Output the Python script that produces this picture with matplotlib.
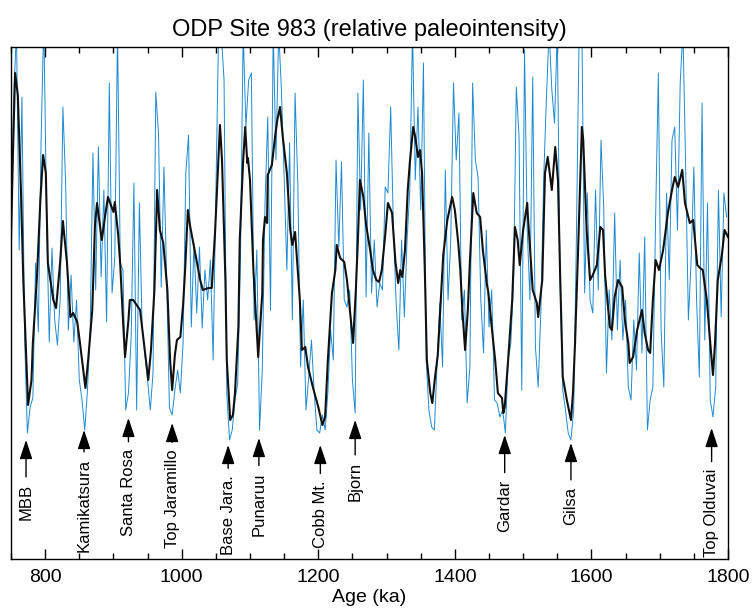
import numpy as np
import matplotlib
matplotlib.use("Agg")
import matplotlib.pyplot as plt
from matplotlib.ticker import MultipleLocator

plt.rcParams['font.family'] = ['Liberation Sans', 'DejaVu Sans']

# smoothed record (black), age in ka
black_age = [750, 753, 756, 760, 765, 768, 772, 775, 780, 782, 788, 793, 797, 801, 804, 812, 816,
             822, 826, 832, 837, 841, 847, 851, 859, 863, 869, 873, 876, 883, 888, 892, 900, 902,
             907, 910, 914, 917, 922, 924, 929, 932, 939, 945, 951, 955, 960, 964, 968, 973, 979,
             983, 986, 990, 993, 998, 1002, 1005, 1009, 1012, 1017, 1023, 1027, 1031, 1039, 1044,
             1049, 1053, 1056, 1059, 1064, 1066, 1071, 1075, 1078, 1083, 1085, 1090, 1093, 1096,
             1097, 1100, 1105, 1109, 1112, 1118, 1119, 1122, 1125, 1126, 1132, 1137, 1140, 1144,
             1148, 1154, 1159, 1162, 1166, 1170, 1173, 1176, 1181, 1185, 1192, 1200, 1206, 1210,
             1214, 1220, 1225, 1227, 1232, 1238, 1242, 1247, 1251, 1255, 1258, 1261, 1266, 1270,
             1276, 1280, 1285, 1289, 1293, 1298, 1302, 1308, 1313, 1317, 1320, 1323, 1327, 1331,
             1334, 1339, 1342, 1346, 1349, 1352, 1356, 1359, 1364, 1367, 1371, 1375, 1378, 1383,
             1389, 1396, 1400, 1405, 1408, 1411, 1415, 1419, 1422, 1427, 1432, 1437, 1441, 1447,
             1449, 1454, 1459, 1463, 1469, 1471, 1473, 1478, 1484, 1488, 1492, 1495, 1500, 1506,
             1507, 1510, 1514, 1520, 1522, 1528, 1532, 1536, 1542, 1547, 1551, 1554, 1558, 1564,
             1570, 1573, 1576, 1580, 1586, 1588, 1593, 1598, 1602, 1608, 1613, 1617, 1620, 1627,
             1630, 1634, 1639, 1645, 1649, 1654, 1656, 1661, 1667, 1674, 1678, 1683, 1686, 1690,
             1694, 1699, 1705, 1712, 1718, 1722, 1727, 1733, 1737, 1744, 1749, 1755, 1759, 1763,
             1769, 1774, 1778, 1781, 1785, 1791, 1795, 1800]
black_val = [3.19, 4.09, 4.86, 4.64, 3.59, 2.79, 2.09, 1.54, 1.79, 2.16, 2.82, 3.59, 4.04, 3.86, 2.96,
             2.59, 2.51, 2.97, 3.38, 2.96, 2.42, 2.46, 2.37, 2.16, 1.71, 1.99, 2.49, 3.34, 3.56, 3.19,
             3.44, 3.62, 3.47, 3.57, 3.24, 2.94, 2.39, 2.02, 2.39, 2.59, 2.59, 2.56, 2.49, 2.14, 1.79,
             2.09, 2.69, 3.69, 3.29, 3.16, 2.69, 1.99, 1.69, 2.04, 2.19, 2.22, 2.54, 2.89, 3.49, 3.34,
             3.16, 2.94, 2.79, 2.69, 2.71, 2.71, 3.29, 3.89, 4.34, 3.99, 2.79, 1.99, 1.39, 1.44, 1.66,
             2.32, 3.19, 3.99, 4.32, 3.96, 4.01, 3.79, 2.89, 2.39, 2.02, 2.66, 3.19, 3.42, 3.36, 3.84,
             3.94, 4.24, 4.39, 4.52, 4.22, 3.86, 3.29, 3.14, 3.27, 2.89, 2.59, 2.09, 2.12, 1.92, 1.72,
             1.52, 1.34, 1.42, 1.99, 2.66, 2.89, 3.14, 3.01, 2.97, 2.79, 2.44, 2.16, 2.69, 3.19, 3.79,
             3.62, 3.34, 3.09, 2.89, 2.79, 2.77, 2.89, 3.24, 3.56, 3.46, 2.97, 2.76, 2.89, 2.82, 3.09,
             3.69, 3.96, 4.32, 4.22, 4.02, 4.09, 3.86, 2.89, 1.99, 1.66, 1.56, 1.82, 2.04, 2.42, 3.04,
             3.39, 3.62, 3.49, 3.16, 2.89, 2.49, 2.09, 2.49, 2.97, 3.66, 3.46, 3.42, 3.09, 2.74, 2.67,
             2.32, 1.99, 1.66, 1.61, 1.46, 1.52, 1.99, 2.59, 3.32, 3.19, 2.94, 3.29, 3.56, 3.42, 3.12,
             2.69, 2.56, 2.42, 2.79, 3.86, 4.02, 3.69, 4.12, 3.79, 2.89, 1.82, 1.59, 1.39, 1.66, 2.16,
             2.99, 4.32, 4.19, 3.29, 2.79, 2.84, 2.94, 3.32, 3.29, 2.84, 2.32, 2.29, 2.62, 2.79, 2.72,
             2.39, 2.16, 1.96, 2.02, 2.29, 2.49, 2.26, 2.09, 2.06, 2.59, 2.99, 2.89, 3.09, 3.46, 3.69,
             3.82, 3.72, 3.89, 3.56, 3.36, 3.39, 2.94, 2.91, 2.89, 2.59, 2.16, 1.84, 2.16, 2.79, 3.04,
             3.29, 3.22]

# raw record (blue), sampled every 4 ka from 750 ka
blue_start, blue_step = 750, 4
blue_val = [3.29, 4.62, 5.29, 3.09, 4.62, 2.19, 1.26, 1.52, 1.61, 2.96, 2.27, 4.16, 5.39, 3.47, 2.17,
            3.11, 2.39, 2.14, 2.59, 4.52, 3.76, 2.29, 2.84, 2.17, 2.59, 1.79, 1.59, 1.29, 1.69, 2.32,
            4.06, 2.69, 4.12, 2.82, 3.69, 2.37, 4.76, 2.66, 3.01, 5.29, 2.96, 2.89, 1.49, 1.66, 2.22,
            3.76, 1.49, 3.56, 2.32, 2.06, 1.79, 1.49, 1.86, 4.67, 4.26, 2.72, 3.92, 2.79, 1.51, 1.44,
            1.69, 1.89, 1.66, 2.16, 3.86, 4.24, 2.32, 3.16, 2.46, 3.12, 2.31, 2.89, 2.59, 2.99, 1.99,
            3.62, 5.29, 5.24, 4.79, 1.66, 1.19, 1.29, 1.59, 1.76, 2.99, 5.29, 4.32, 4.79, 4.86, 2.39,
            3.09, 1.29, 1.89, 3.56, 4.42, 2.49, 5.29, 3.99, 5.29, 4.69, 3.82, 2.89, 4.16, 2.39, 4.66,
            3.76, 1.92, 2.59, 1.49, 1.82, 2.19, 1.66, 1.29, 1.26, 1.44, 1.29, 1.66, 2.29, 1.99, 3.99,
            3.12, 3.97, 2.59, 2.52, 2.69, 1.79, 1.46, 4.66, 3.49, 4.79, 2.62, 4.26, 2.66, 3.19, 2.52,
            2.76, 2.69, 3.72, 3.66, 4.52, 3.32, 2.56, 2.09, 3.19, 2.42, 3.19, 3.69, 5.29, 3.79, 4.52,
            3.49, 4.96, 1.99, 1.49, 1.32, 1.29, 1.96, 2.56, 1.92, 3.89, 2.59, 3.19, 4.76, 3.99, 4.46,
            2.39, 2.69, 1.56, 1.92, 4.76, 3.99, 3.82, 2.59, 2.06, 3.29, 2.32, 2.69, 1.59, 1.56, 1.42,
            1.49, 1.26, 1.99, 2.16, 2.79, 4.72, 4.22, 1.69, 5.09, 3.29, 2.59, 4.82, 2.12, 1.72, 2.49,
            3.79, 4.59, 5.29, 4.69, 4.36, 5.29, 2.79, 1.69, 1.49, 1.26, 1.19, 1.49, 3.22, 5.29, 5.29,
            2.66, 3.66, 2.59, 2.46, 3.69, 2.69, 4.19, 3.52, 1.86, 2.69, 2.19, 3.46, 2.29, 2.99, 2.19,
            2.59, 1.72, 1.59, 2.39, 1.89, 3.06, 2.06, 3.22, 1.29, 1.59, 1.72, 3.42, 4.86, 2.29, 1.72,
            3.66, 2.79, 4.19, 4.32, 3.29, 4.76, 5.29, 3.92, 2.39, 2.99, 3.92, 2.59, 1.82, 4.56, 2.19,
            3.56, 1.59, 1.42, 1.72, 3.69, 2.42, 3.66, 3.42]
blue_age = blue_start + blue_step * np.arange(len(blue_val))

# named events
events = ["MBB", "Kamikatsura", "Santa Rosa", "Top Jaramillo", "Base Jara.", "Punaruu",
          "Cobb Mt.", "Bjorn", "Gardar", "Gilsa", "Top Olduvai"]
event_age = [772, 857, 922, 986, 1068, 1113, 1203, 1254, 1473, 1570, 1776]
# label placement: bottom of text and arrow tip (y units of the plot)
text_y = [0.39, 0.07, 0.23, 0.11, 0.04, 0.23, 0.11, 0.58, 0.27, 0.34, 0.02]
tip_y = [1.19, 1.29, 1.41, 1.36, 1.14, 1.21, 1.14, 1.39, 1.24, 1.16, 1.31]

fig = plt.figure(figsize=(7.54, 6.14), dpi=100)
ax = fig.add_axes([11 / 754, 1 - 559 / 614, 717 / 754, 512 / 614])

ax.plot(blue_age, blue_val, color='#1f8ad0', lw=0.7)
ax.plot(black_age, black_val, color='#111111', lw=1.5)

for name, a, ty, py in zip(events, event_age, text_y, tip_y):
    ax.annotate(name, xy=(a, py), xytext=(a, ty), rotation=90, ha='center', va='bottom',
                fontsize=12,
                arrowprops=dict(arrowstyle='-|>,head_length=0.9,head_width=0.3',
                                color='k', lw=1.0, mutation_scale=13,
                                shrinkA=3, shrinkB=0))

ax.set_xlim(750, 1800)
ax.set_ylim(0, 5.12)
ax.set_yticks([])
ax.xaxis.set_major_locator(MultipleLocator(200))
ax.xaxis.set_minor_locator(MultipleLocator(50))
ax.tick_params(axis='x', which='both', direction='in', top=True, labelsize=14, pad=7)
ax.tick_params(axis='x', which='major', length=7, width=1)
ax.tick_params(axis='x', which='minor', length=4, width=1)
for s in ax.spines.values():
    s.set_linewidth(1)

ax.set_xlabel("Age (ka)", fontsize=14, labelpad=2)
ax.set_title("ODP Site 983 (relative paleointensity)", fontsize=17, pad=8)

fig.savefig("out.png", dpi=100)
